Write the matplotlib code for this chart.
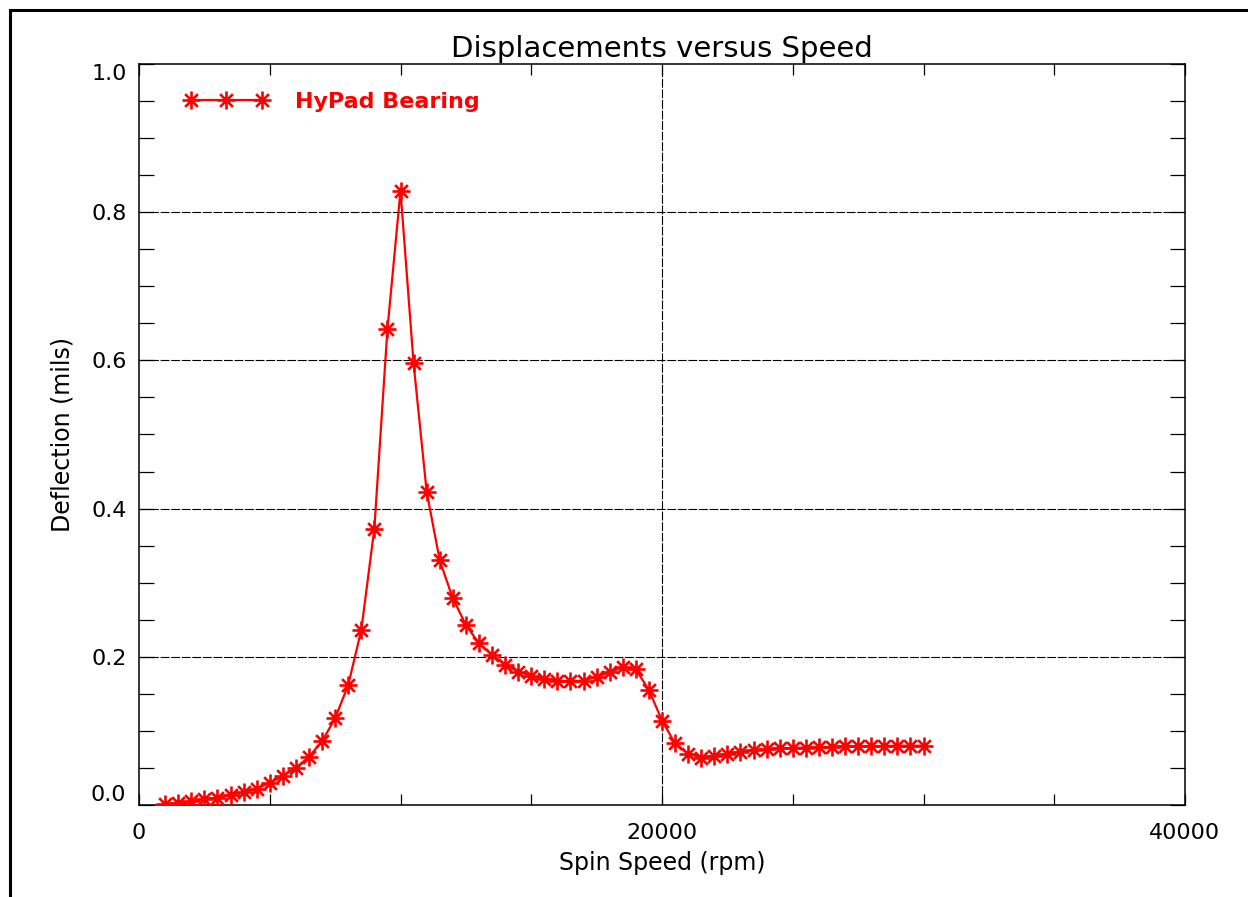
import matplotlib
matplotlib.use("Agg")
import matplotlib.pyplot as plt
import numpy as np
from matplotlib.lines import Line2D
from matplotlib.path import Path
from matplotlib.ticker import MultipleLocator

# spin speed (rpm) and measured deflection (mils)
speed = [1000, 1500, 2000, 2500, 3000, 3500, 4000, 4500, 5000, 5500,
         6000, 6500, 7000, 7500, 8000, 8500, 9000, 9500, 10000, 10500,
         11000, 11500, 12000, 12500, 13000, 13500, 14000, 14500, 15000, 15500,
         16000, 16500, 17000, 17500, 18000, 18500, 19000, 19500, 20000, 20500,
         21000, 21500, 22000, 22500, 23000, 23500, 24000, 24500, 25000, 25500,
         26000, 26500, 27000, 27500, 28000, 28500, 29000, 29500, 30000]
deflection = [0.001, 0.003, 0.005, 0.008, 0.010, 0.014, 0.017, 0.022, 0.030, 0.039,
              0.050, 0.065, 0.086, 0.117, 0.162, 0.236, 0.373, 0.642, 0.829, 0.596,
              0.423, 0.330, 0.279, 0.243, 0.218, 0.203, 0.189, 0.180, 0.174, 0.170,
              0.168, 0.167, 0.168, 0.173, 0.179, 0.186, 0.183, 0.155, 0.114, 0.083,
              0.069, 0.064, 0.066, 0.069, 0.072, 0.074, 0.0755, 0.0765, 0.077, 0.0775,
              0.078, 0.0785, 0.079, 0.079, 0.0795, 0.0795, 0.080, 0.080, 0.080]

series_label = "HyPad Bearing"
x_ticks = [0, 20000, 40000]
y_ticks = [0.0, 0.2, 0.4, 0.6, 0.8, 1.0]
grid_y = [0.2, 0.4, 0.6, 0.8]
grid_x = [20000]

plt.rcParams["font.family"] = ["DejaVu Sans"]

# eight-armed asterisk like the IDL psym=2
d = 0.7071
star = Path(
    [(-1, 0), (1, 0), (0, -1), (0, 1), (-d, -d), (d, d), (-d, d), (d, -d)],
    [Path.MOVETO, Path.LINETO] * 4,
)

fig = plt.figure(figsize=(12.48, 8.97), dpi=100)
ax = fig.add_axes([139 / 1248, 1 - 805 / 897, 1046 / 1248, 741 / 897])

grid_style = dict(color="black", linewidth=0.8, linestyle=(0, (8, 1.5)), zorder=1)
for g in grid_y:
    ax.axhline(g, **grid_style)
for g in grid_x:
    ax.axvline(g, **grid_style)

line, = ax.plot(speed, deflection, color="red", linewidth=1.6,
                marker=star, markersize=13, markeredgewidth=1.9,
                markerfacecolor="none", markeredgecolor="red", zorder=3)

ax.set_xlim(0, 40000)
ax.set_ylim(0, 1.0)
ax.set_xticks(x_ticks)
ax.set_yticks(y_ticks)
ax.set_yticklabels([f"{v:.1f}" for v in y_ticks])
ax.xaxis.set_minor_locator(MultipleLocator(5000))
ax.yaxis.set_minor_locator(MultipleLocator(0.05))
ax.tick_params(axis="x", which="both", direction="in", top=True, bottom=True,
               length=8, width=0.9, labelsize=16, pad=13)
ax.tick_params(axis="y", which="both", direction="in", left=True, right=True,
               length=11, width=0.9, labelsize=16, pad=9)
ylabels = ax.get_yticklabels()
ylabels[0].set_verticalalignment("bottom")
ylabels[-1].set_verticalalignment("top")
for s in ax.spines.values():
    s.set_linewidth(1.1)

ax.set_title("Displacements versus Speed", fontsize=21, pad=5)
ax.set_xlabel("Spin Speed (rpm)", fontsize=17, labelpad=6)
ax.set_ylabel("Deflection (mils)", fontsize=17, labelpad=12)

leg = ax.legend([line], [series_label], loc="upper left",
                bbox_to_anchor=(0.043, 0.962), frameon=False, numpoints=3,
                handlelength=3.8, handletextpad=1.2, borderpad=0,
                borderaxespad=0, prop={"size": 16, "weight": "bold"})
for t in leg.get_texts():
    t.set_color("red")

# outer frame, cut off at right and bottom
fig.add_artist(Line2D([10 / 1248, 1], [1 - 10 / 897, 1 - 10 / 897],
                      color="black", linewidth=2.2, transform=fig.transFigure))
fig.add_artist(Line2D([10 / 1248, 10 / 1248], [0, 1 - 10 / 897],
                      color="black", linewidth=2.2, transform=fig.transFigure))

fig.savefig("out.png", dpi=100)
plt.close(fig)
